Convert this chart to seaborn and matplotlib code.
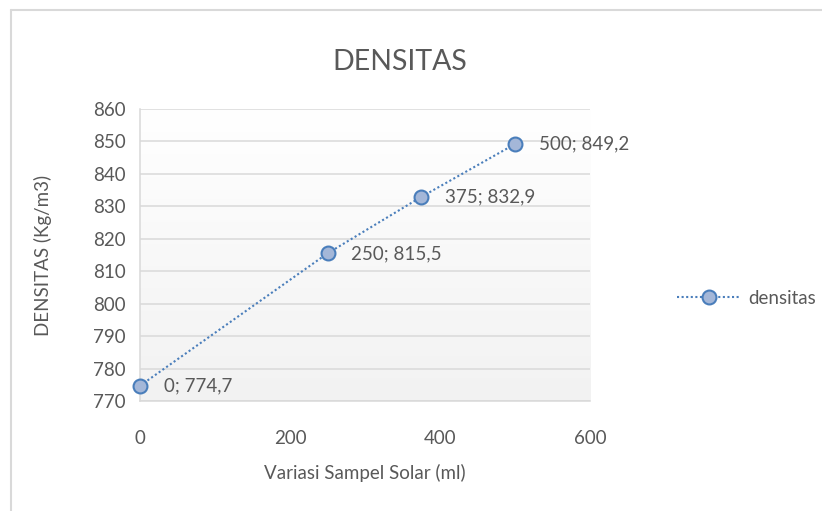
import numpy as np
import pandas as pd
import matplotlib
matplotlib.use("Agg")
import matplotlib.pyplot as plt
import seaborn as sns
from matplotlib.lines import Line2D

sample_ml = [0, 250, 375, 500]
density = [774.7, 815.5, 832.9, 849.2]
point_labels = ["0; 774,7", "250; 815,5", "375; 832,9", "500; 849,2"]

df = pd.DataFrame({"sampel": sample_ml, "densitas": density})

sns.set_style("white")
plt.rcParams["font.family"] = ["Lato", "DejaVu Sans"]

txt = "#595959"
grid = "#d9d9d9"
line_c = "#4a7ebb"
fs = 13.5

fig = plt.figure(figsize=(8.22, 5.11), dpi=100)
ax = fig.add_axes([140 / 822, 1 - 401 / 511, 450 / 822, 292 / 511])

# gradient background of the plot area
grad = np.linspace(1.0, 0.0, 256).reshape(-1, 1)
ax.imshow(grad, extent=[0, 1, 0, 1], transform=ax.transAxes, aspect="auto",
          cmap=matplotlib.colors.LinearSegmentedColormap.from_list("g", ["#f2f2f2", "#ffffff"]),
          zorder=0)

sns.lineplot(data=df, x="sampel", y="densitas", ax=ax, color=line_c,
             linestyle=(0, (1, 1.2)), linewidth=1.5, marker="o", markersize=10,
             markerfacecolor="#a4b7d8", markeredgecolor="#4a7ebb",
             markeredgewidth=1.5, zorder=5, clip_on=False)

for x, y, s in zip(sample_ml, density, point_labels):
    ax.annotate(s, (x, y), xytext=(17, 0), textcoords="offset points",
                va="center", ha="left", fontsize=fs, color=txt)

ax.set_xlim(0, 600)
ax.set_ylim(770, 860)
ax.set_xticks([0, 200, 400, 600])
ax.set_yticks(np.arange(770, 861, 10))
ax.grid(axis="y", color=grid, linewidth=1.1)
ax.set_axisbelow(True)
for side in ["top", "right"]:
    ax.spines[side].set_visible(False)
for side in ["left", "bottom"]:
    ax.spines[side].set_color(grid)
    ax.spines[side].set_linewidth(1.1)
ax.tick_params(axis="both", colors=grid, labelcolor=txt, labelsize=fs,
               length=6, width=1.1, direction="out")
ax.tick_params(axis="x", pad=15)
ax.tick_params(axis="y", pad=4)

ax.set_xlabel("Variasi Sampel Solar (ml)", fontsize=fs, color=txt, labelpad=12)
ax.set_ylabel("DENSITAS (Kg/m3)", fontsize=fs, color=txt, labelpad=30)
fig.text(400 / 822, 1 - 62 / 511, "DENSITAS", fontsize=20.5, color=txt,
         ha="center", va="center")

handle = Line2D([], [], color=line_c, linestyle=(0, (1, 1.2)), linewidth=1.5,
                marker="o", markersize=10, markerfacecolor="#a4b7d8",
                markeredgecolor="#4a7ebb", markeredgewidth=1.5)
fig.legend([handle], ["densitas"], loc="center left",
           bbox_to_anchor=(677 / 822, 1 - 298 / 511), frameon=False,
           fontsize=fs, labelcolor=txt, handlelength=3.4, handletextpad=0.4,
           borderaxespad=0, borderpad=0)

# outer chart border (top and left visible)
fig.add_artist(Line2D([11 / 822, 11 / 822], [0, 1 - 10 / 511], color="#d9d9d9",
                      linewidth=1.5, transform=fig.transFigure))
fig.add_artist(Line2D([11 / 822, 1], [1 - 10 / 511, 1 - 10 / 511], color="#d9d9d9",
                      linewidth=1.5, transform=fig.transFigure))

fig.savefig("out.png", dpi=100)
